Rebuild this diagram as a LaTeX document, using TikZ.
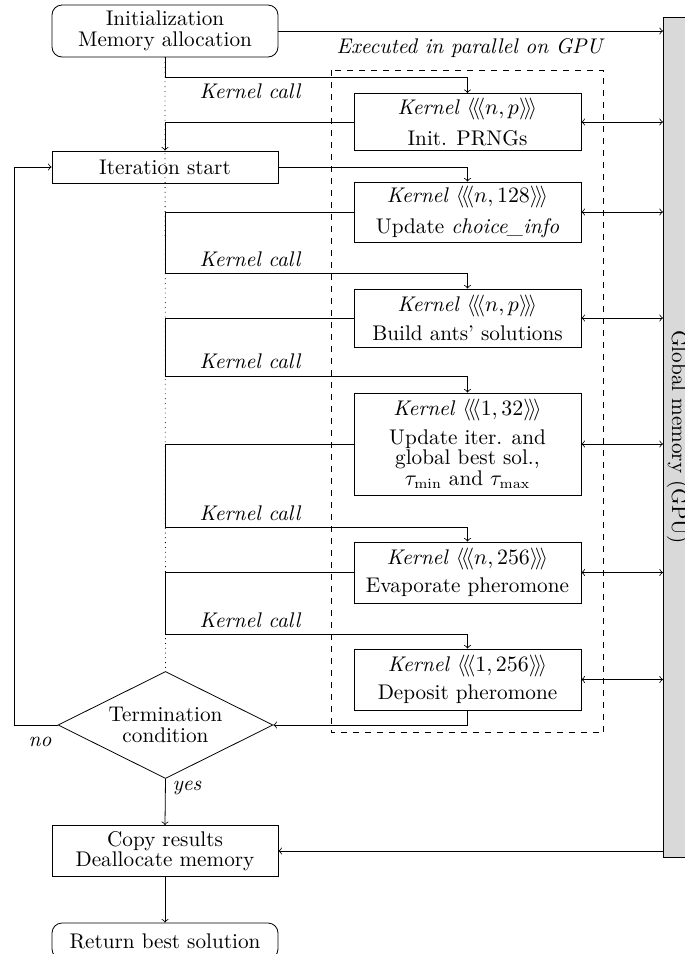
\documentclass[tikz,border=0pt]{standalone}
\usetikzlibrary{shapes.geometric,arrows}
\newcommand{\Kl}[1]{\textit{Kernel} $\langle\!\langle\!\langle #1\rangle\!\rangle\!\rangle$}
\begin{document}
\begin{tikzpicture}[x=0.5pt,y=-0.5pt,>=to,
  font=\fontsize{10.6}{10.2}\selectfont,
  box/.style={draw, align=center, minimum width=113pt, inner sep=2pt},
  roundbox/.style={box, rounded corners=5pt},
  kbox/.style={draw, align=center, minimum width=113.5pt, inner sep=2pt},
  lbl/.style={font=\fontsize{10.6}{10.2}\selectfont\itshape, inner sep=1pt},
  gmem/.style={draw, fill=gray!30, anchor=north west, inner sep=0pt, minimum width=25pt, minimum height=420pt},
  region/.style={draw, dashed},
  guide/.style={dotted}]
\useasboundingbox (0,0) rectangle (685,954);

% global memory
\node[gmem] (gm) at (663,17) {};
\node[rotate=-90, anchor=base] (gmtext) at (672,437) {Global memory (GPU)};

% parallel region
\draw[region] (331,70) rectangle (603.5,732.5);
\node[lbl] (exec) at (469.5,48) {Executed in parallel on GPU};

% left column
\node[roundbox, minimum height=26pt] (init) at (165,31) {Initialization\\Memory allocation};
\node[box, minimum height=16pt] (iter) at (165,167) {Iteration start};
\node[draw, diamond, aspect=2, minimum width=107.5pt, minimum height=53.5pt, inner sep=0pt, align=center] (term) at (165.5,725) {Termination\\condition};
\node[box, minimum height=25.5pt] (copy) at (165,851) {Copy results\\Deallocate memory};
\node[roundbox, minimum height=18pt] (ret) at (165,941) {Return best solution};

% kernels
\node[kbox, minimum height=28.5pt] (k1) at (467.5,122) {\Kl{n,p}\\[4pt]Init. PRNGs};
\node[kbox, minimum height=30pt] (k2) at (467.5,212) {\Kl{n,128}\\[4pt]Update \textit{choice\_info}};
\node[kbox, minimum height=29pt] (k3) at (467.5,318) {\Kl{n,p}\\[4pt]Build ants' solutions};
\node[kbox, minimum height=51pt] (k4) at (467.5,444) {\Kl{1,32}\\[4pt]Update iter. and\\global best sol.,\\$\tau_{\min}$ and $\tau_{\max}$};
\node[kbox, minimum height=30.5pt] (k5) at (467.5,572.5) {\Kl{n,256}\\[4pt]Evaporate pheromone};
\node[kbox, minimum height=30.5pt] (k6) at (467.5,679.5) {\Kl{1,256}\\[4pt]Deposit pheromone};

% dotted main column
\draw[guide] (init.south) -- (term.north);

% connectors
\draw[->] (init.east) -- (init.east -| gm.west);
\draw[->] (init.south) -- ++(0,19.5) -| (k1.north);
\node[lbl] (kc1) at (250,91) {Kernel call};
\draw[->] (k1.west) -| (iter.north);
\draw[->] (iter.east) -| (k2.north);
\draw[->] (k2.west) -| (165,273) -| (k3.north);
\node[lbl] (kc2) at (250,259) {Kernel call};
\draw[->] (k3.west) -| (165,376) -| (k4.north);
\node[lbl] (kc3) at (250,361) {Kernel call};
\draw[->] (k4.west) -| (165,527) -| (k5.north);
\node[lbl] (kc4) at (250,513) {Kernel call};
\draw[->] (k5.west) -| (165,634) -| (k6.north);
\node[lbl] (kc5) at (250,620) {Kernel call};
\draw[->] (k6.south) |- (term.east);
\draw[->] (term.west) -- (14,725) |- (iter.west);
\node[lbl] (no) at (40,742) {no};
\draw[->] (term.south) -- (copy.north);
\node[lbl] (yes) at (187,788) {yes};
\draw[->] (copy.east -| gm.west) -- (copy.east);
\draw[->] (copy.south) -- (ret.north);

\foreach \k in {k1,k2,k3,k4,k5,k6}
  \draw[<->] (\k.east) -- (\k.east -| gm.west);
\end{tikzpicture}
\end{document}
